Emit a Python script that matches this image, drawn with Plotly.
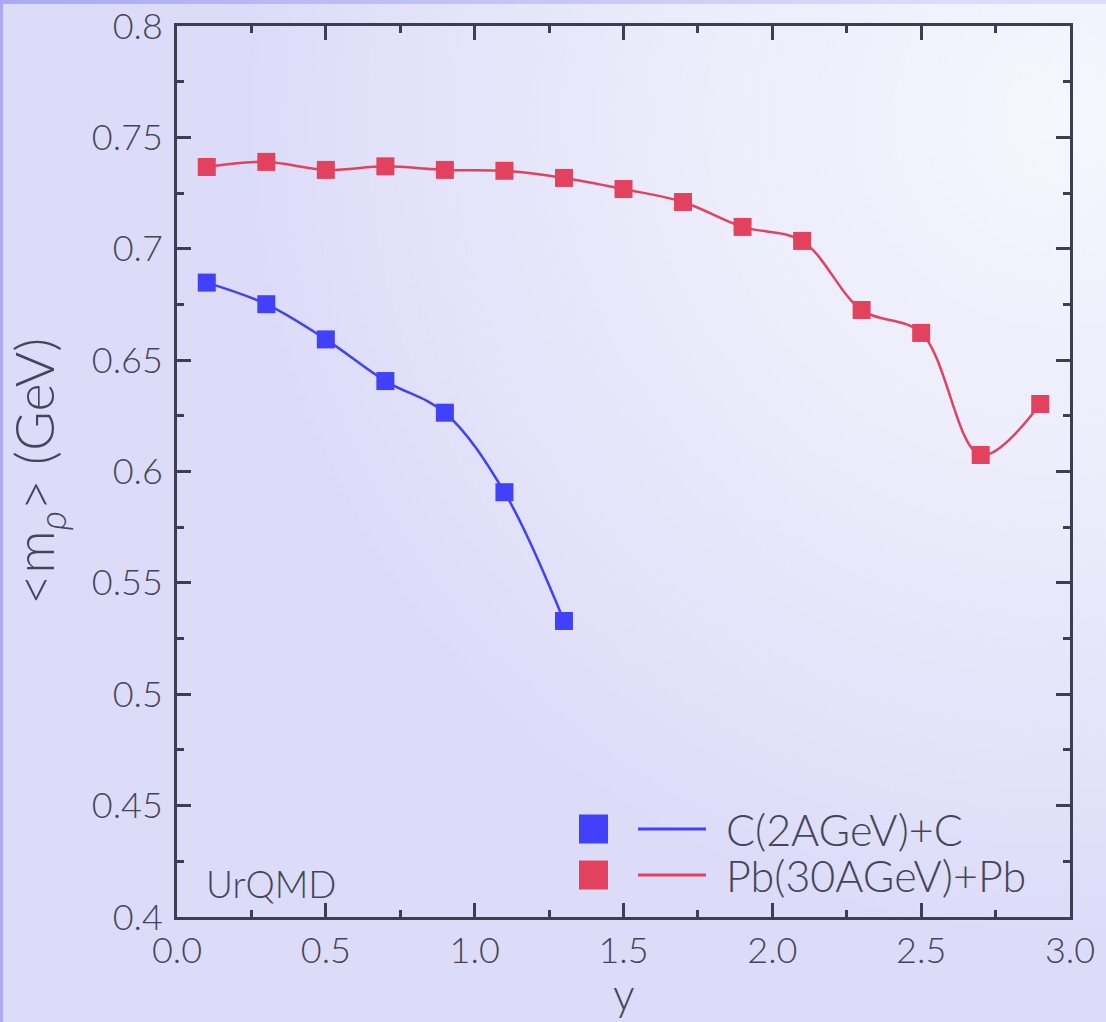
import base64
import plotly.graph_objects as go

# Mean rho mass vs rapidity (UrQMD)
rapidity_c = [0.1, 0.3, 0.5, 0.7, 0.9, 1.1, 1.3]
mass_c = [0.6848, 0.6751, 0.6593, 0.6406, 0.6264, 0.5907, 0.5329]

rapidity_pb = [0.1, 0.3, 0.5, 0.7, 0.9, 1.1, 1.3, 1.5, 1.7, 1.9, 2.1, 2.3, 2.5, 2.7, 2.9]
mass_pb = [0.7367, 0.7390, 0.7354, 0.7370, 0.7354, 0.7350, 0.7318, 0.7268, 0.7210,
           0.7098, 0.7035, 0.6725, 0.6622, 0.6074, 0.6303]

series_names = ["C(2AGeV)+C", "Pb(30AGeV)+Pb"]
series_colors = ["#4141fb", "#e2425e"]

x_ticks = [0.0, 0.5, 1.0, 1.5, 2.0, 2.5, 3.0]
x_tick_labels = ["0.0", "0.5", "1.0", "1.5", "2.0", "2.5", "3.0"]
y_ticks = [0.4, 0.45, 0.5, 0.55, 0.6, 0.65, 0.7, 0.75, 0.8]
y_tick_labels = ["0.4", "0.45", "0.5", "0.55", "0.6", "0.65", "0.7", "0.75", "0.8"]

W, H = 1106, 1022
ML, MR, MT, MB = 177, 36, 26, 105
PW, PH = W - ML - MR, H - MT - MB

FONT = "Lato Light, Lato"
TEXT = "#45455a"
AXIS = "#3e3e52"

# soft lavender backdrop with a light glow towards the upper right
bg_svg = f"""<svg xmlns='http://www.w3.org/2000/svg' width='{W}' height='{H}' viewBox='0 0 {W} {H}'>
<defs>
<radialGradient id='g' cx='1060' cy='120' r='820' gradientUnits='userSpaceOnUse'>
<stop offset='0' stop-color='#f6f6fe'/>
<stop offset='0.45' stop-color='#ececfb'/>
<stop offset='1' stop-color='#dcdcf9'/>
</radialGradient>
<linearGradient id='t' x1='0' y1='0' x2='{W}' y2='0' gradientUnits='userSpaceOnUse'>
<stop offset='0' stop-color='#a9a9f6'/>
<stop offset='0.85' stop-color='#dcdcf8'/>
<stop offset='1' stop-color='#dedefa'/>
</linearGradient>
</defs>
<rect width='{W}' height='{H}' fill='#dcdcf9'/>
<rect width='{W}' height='{H}' fill='url(#g)'/>
<rect width='{W}' height='4' fill='url(#t)'/>
<rect width='3' height='{H}' fill='#a9a9f6'/>
</svg>"""
bg_uri = "data:image/svg+xml;base64," + base64.b64encode(bg_svg.encode()).decode()

fig = go.Figure()

for xs, ys, name, color in [(rapidity_c, mass_c, series_names[0], series_colors[0]),
                            (rapidity_pb, mass_pb, series_names[1], series_colors[1])]:
    fig.add_trace(go.Scatter(
        x=xs, y=ys, name=name, mode="lines+markers",
        line=dict(color=color, width=2.5, shape="spline", smoothing=1.0),
        marker=dict(symbol="square", size=18, color=color),
        showlegend=False,
    ))


def px_x(p):
    return (p - ML) / PW


def px_y(p):
    return (H - MB - p) / PH


shapes = []
annotations = []
# legend drawn as square, line sample and label
for i, (name, color) in enumerate(zip(series_names, series_colors)):
    cy = 829 + i * 46
    shapes.append(dict(type="rect", xref="paper", yref="paper",
                       x0=px_x(579), x1=px_x(608), y0=px_y(cy - 14.5), y1=px_y(cy + 14.5),
                       fillcolor=color, line=dict(width=0)))
    shapes.append(dict(type="line", xref="paper", yref="paper",
                       x0=px_x(638), x1=px_x(706), y0=px_y(cy), y1=px_y(cy),
                       line=dict(color=color, width=3)))
    annotations.append(dict(xref="paper", yref="paper", x=px_x(724), y=px_y(cy),
                            xanchor="left", yanchor="middle", showarrow=False, text=name,
                            font=dict(family=FONT, size=43, color=TEXT, weight=300)))

annotations.append(dict(xref="paper", yref="paper", x=px_x(204), y=px_y(883),
                        xanchor="left", yanchor="middle", showarrow=False, text="UrQMD",
                        font=dict(family=FONT, size=37, color=TEXT, weight=300)))

# x-axis title placed just below the tick labels
annotations.append(dict(xref="paper", yref="paper", x=0.5, y=px_y(1021),
                        xanchor="center", yanchor="bottom", showarrow=False, text="y",
                        font=dict(family=FONT, size=43, color=TEXT, weight=300)))

axis_common = dict(
    showline=True, linecolor=AXIS, linewidth=3, mirror="ticks",
    ticks="inside", ticklen=14, tickwidth=3, tickcolor=AXIS,
    showgrid=False, zeroline=False, automargin=False,
    tickfont=dict(family=FONT, size=36, color=TEXT, weight=300),
)

fig.update_layout(
    width=W, height=H,
    margin=dict(l=ML, r=MR, t=MT, b=MB),
    paper_bgcolor="#dcdcf9",
    plot_bgcolor="rgba(0,0,0,0)",
    images=[dict(source=bg_uri, xref="paper", yref="paper",
                 x=-ML / PW, y=1 + MT / PH, sizex=W / PW, sizey=H / PH,
                 sizing="stretch", xanchor="left", yanchor="top", layer="below")],
    xaxis=dict(range=[0, 3], tickvals=x_ticks, ticktext=x_tick_labels,
               minor=dict(dtick=0.25, ticks="inside", ticklen=7, tickwidth=3, tickcolor=AXIS),
               ticklabelstandoff=0,
               **axis_common),
    yaxis=dict(range=[0.4, 0.8], tickvals=y_ticks, ticktext=y_tick_labels,
               minor=dict(dtick=0.025, ticks="inside", ticklen=7, tickwidth=3, tickcolor=AXIS),
               ticklabelstandoff=4,
               title=dict(text="&lt;m<sub><i>ρ</i></sub>&gt; (GeV)", standoff=20,
                          font=dict(family=FONT, size=54, color=TEXT, weight=300)),
               **axis_common),
    shapes=shapes,
    annotations=annotations,
)

fig.write_html("out.html")
